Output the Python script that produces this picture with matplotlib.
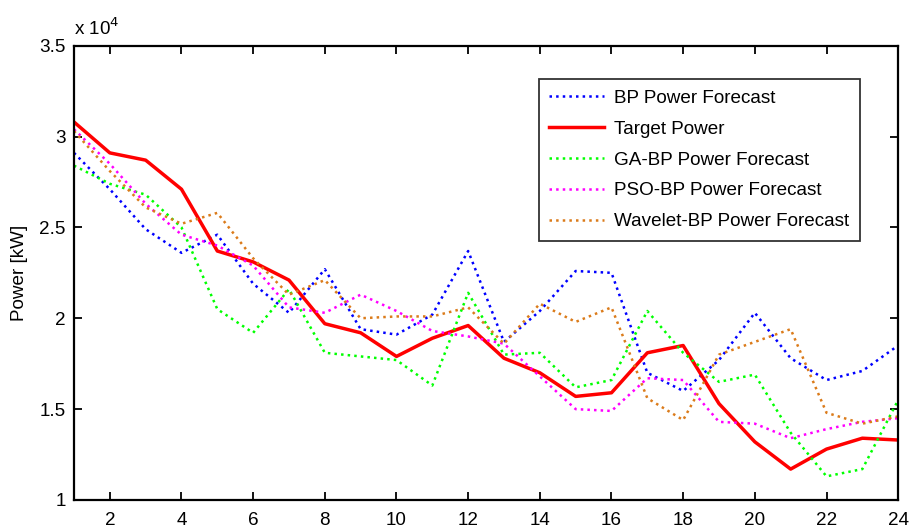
import numpy as np
import matplotlib
matplotlib.use("Agg")
from matplotlib import pyplot as plt

# Hours on the x axis, power values in units of 1e4 kW
hours = np.arange(1, 25)

target_power = [3.08, 2.91, 2.87, 2.71, 2.37, 2.31, 2.21, 1.97, 1.92, 1.79, 1.89, 1.96,
                1.78, 1.70, 1.57, 1.59, 1.81, 1.85, 1.53, 1.32, 1.17, 1.28, 1.34, 1.33]
bp_forecast = [2.91, 2.71, 2.49, 2.36, 2.46, 2.19, 2.03, 2.27, 1.94, 1.91, 2.02, 2.37,
               1.87, 2.04, 2.26, 2.25, 1.70, 1.60, 1.77, 2.03, 1.78, 1.66, 1.71, 1.85]
ga_bp_forecast = [2.84, 2.74, 2.68, 2.50, 2.05, 1.92, 2.16, 1.81, 1.79, 1.77, 1.63, 2.14,
                  1.80, 1.81, 1.62, 1.66, 2.04, 1.81, 1.65, 1.69, 1.37, 1.13, 1.17, 1.55]
pso_bp_forecast = [3.04, 2.85, 2.63, 2.46, 2.40, 2.29, 2.06, 2.03, 2.13, 2.04, 1.93, 1.90,
                   1.86, 1.68, 1.50, 1.49, 1.67, 1.66, 1.43, 1.42, 1.34, 1.39, 1.43, 1.45]
wavelet_bp_forecast = [3.03, 2.81, 2.61, 2.52, 2.58, 2.33, 2.13, 2.21, 2.00, 2.01, 2.01, 2.06,
                       1.86, 2.08, 1.98, 2.06, 1.56, 1.44, 1.80, 1.87, 1.94, 1.48, 1.42, 1.46]

x_ticks = np.arange(2, 25, 2)
y_ticks = [1, 1.5, 2, 2.5, 3, 3.5]
y_tick_labels = ["1", "1.5", "2", "2.5", "3", "3.5"]

plt.rcParams['font.family'] = ['Liberation Sans', 'DejaVu Sans']

fig = plt.figure(figsize=(9.10, 5.31), dpi=100)
ax = fig.add_axes([0.0813, 0.0584, 0.9057, 0.8556])

dot_lw = 1.8
ax.plot(hours, bp_forecast, ':', color='#0000FF', lw=dot_lw, label='BP Power Forecast')
ax.plot(hours, target_power, '-', color='#FF0000', lw=2.5, label='Target Power')
ax.plot(hours, ga_bp_forecast, ':', color='#00FF00', lw=dot_lw, label='GA-BP Power Forecast')
ax.plot(hours, pso_bp_forecast, ':', color='#FF00FF', lw=dot_lw, label='PSO-BP Power Forecast')
ax.plot(hours, wavelet_bp_forecast, ':', color='#DB7B1A', lw=dot_lw, label='Wavelet-BP Power Forecast')

ax.set_xlim(1, 24)
ax.set_ylim(1, 3.5)
ax.set_xticks(x_ticks)
ax.set_yticks(y_ticks)
ax.set_yticklabels(y_tick_labels)
ax.tick_params(direction='in', length=6, width=1.3, labelsize=13.6,
               top=True, right=True)
ax.tick_params(axis='x', pad=9)
ax.tick_params(axis='y', pad=6)
for spine in ax.spines.values():
    spine.set_linewidth(1.6)

ax.set_ylabel('Power [kW]', fontsize=13.6, labelpad=8)
ax.text(0.0, 1.015, r'x 10$^4$', transform=ax.transAxes, fontsize=13.6,
        ha='left', va='bottom')

leg = ax.legend(loc='upper left', bbox_to_anchor=(0.564, 0.926), fontsize=13.6,
                frameon=True, fancybox=False, edgecolor='black', handlelength=2.9,
                handletextpad=0.55, borderpad=0.55, labelspacing=0.72, borderaxespad=0)
leg.get_frame().set_linewidth(1.3)

fig.savefig('out.png', dpi=100)
